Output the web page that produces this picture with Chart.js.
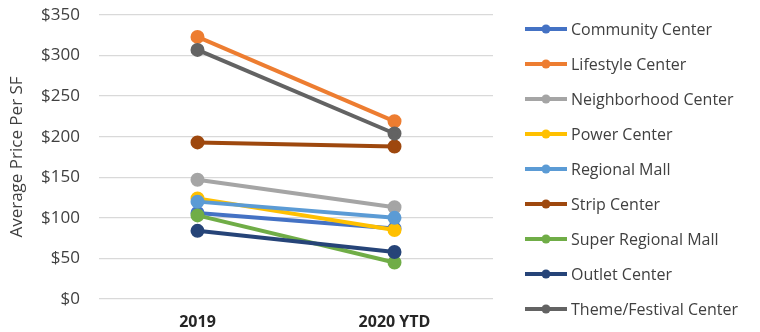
<!DOCTYPE html>
<html>
<head>
<meta charset="utf-8">
<script src="https://cdn.jsdelivr.net/npm/chart.js@4.4.0/dist/chart.umd.min.js"></script>
<style>
  html, body { margin: 0; padding: 0; background: #fff; }
  #wrap { width: 760px; height: 332px; position: relative; }
</style>
</head>
<body>
<div id="wrap"><canvas id="c"></canvas></div>
<script>
const years = ['2019', '2020 YTD']
const seriesNames = ['Community Center', 'Lifestyle Center', 'Neighborhood Center', 'Power Center',
  'Regional Mall', 'Strip Center', 'Super Regional Mall', 'Outlet Center', 'Theme/Festival Center']
const communityCenter = [106, 87]
const lifestyleCenter = [323, 219]
const neighborhoodCenter = [147, 113]
const powerCenter = [124, 85]
const regionalMall = [120, 100]
const stripCenter = [193, 188]
const superRegionalMall = [103, 45]
const outletCenter = [84, 58]
const themeFestivalCenter = [307, 204]
const yTicks = [0, 50, 100, 150, 200, 250, 300, 350]

const seriesValues = [communityCenter, lifestyleCenter, neighborhoodCenter, powerCenter,
  regionalMall, stripCenter, superRegionalMall, outletCenter, themeFestivalCenter]
const colors = ['#4472C4', '#ED7D31', '#A5A5A5', '#FFC000', '#5B9BD5', '#9E480E', '#70AD47', '#264478', '#636363']

const font = "'Open Sans', sans-serif"

// legend drawn by hand: line + dot, then name
const sideLegend = {
  id: 'sideLegend',
  afterDraw (chart) {
    const ctx = chart.ctx
    ctx.save()
    chart.data.datasets.forEach(function (ds, i) {
      const y = 29 + i * 35
      ctx.strokeStyle = ds.borderColor
      ctx.lineWidth = 4
      ctx.beginPath()
      ctx.moveTo(525, y)
      ctx.lineTo(567, y)
      ctx.stroke()
      ctx.fillStyle = ds.borderColor
      ctx.beginPath()
      ctx.arc(546, y, 4.5, 0, Math.PI * 2)
      ctx.fill()
      ctx.fillStyle = '#404040'
      ctx.font = '16px ' + font
      ctx.textBaseline = 'middle'
      ctx.textAlign = 'left'
      ctx.fillText(ds.label, 571, y + 1)
    })
    ctx.restore()
  }
}

const chart = new Chart(document.getElementById('c').getContext('2d'), {
  type: 'line',
  data: {
    labels: years,
    datasets: seriesNames.map(function (name, i) {
      return {
        label: name,
        data: seriesValues[i],
        borderColor: colors[i],
        backgroundColor: colors[i],
        borderWidth: 4,
        pointRadius: 5,
        pointHoverRadius: 5,
        order: seriesNames.length - i
      }
    })
  },
  options: {
    responsive: true,
    maintainAspectRatio: false,
    animation: false,
    layout: { padding: { top: 15, right: 267, left: 0, bottom: 0 } },
    scales: {
      x: {
        offset: true,
        grid: { display: false },
        border: { display: false },
        ticks: { color: '#262626', font: { family: font, size: 16, weight: 'bold' }, padding: 6 },
        afterFit (scale) { scale.height = 33 }
      },
      y: {
        min: 0,
        max: 350,
        afterBuildTicks (scale) { scale.ticks = yTicks.map(v => ({ value: v })) },
        grid: { color: '#d9d9d9', lineWidth: 1.3, drawTicks: false },
        border: { display: false },
        ticks: {
          color: '#404040',
          padding: 19,
          font: { family: font, size: 17 },
          callback: v => '$' + v
        },
        title: {
          display: true,
          text: 'Average Price Per SF',
          color: '#404040',
          padding: { top: 7, bottom: 0 },
          font: { family: font, size: 17 }
        },
        afterFit (scale) {
          scale.width = 99
          scale.paddingTop = 0
          scale.paddingBottom = 0
        }
      }
    },
    plugins: {
      legend: { display: false },
      tooltip: { enabled: false }
    }
  },
  plugins: [sideLegend]
})
</script>
</body>
</html>
